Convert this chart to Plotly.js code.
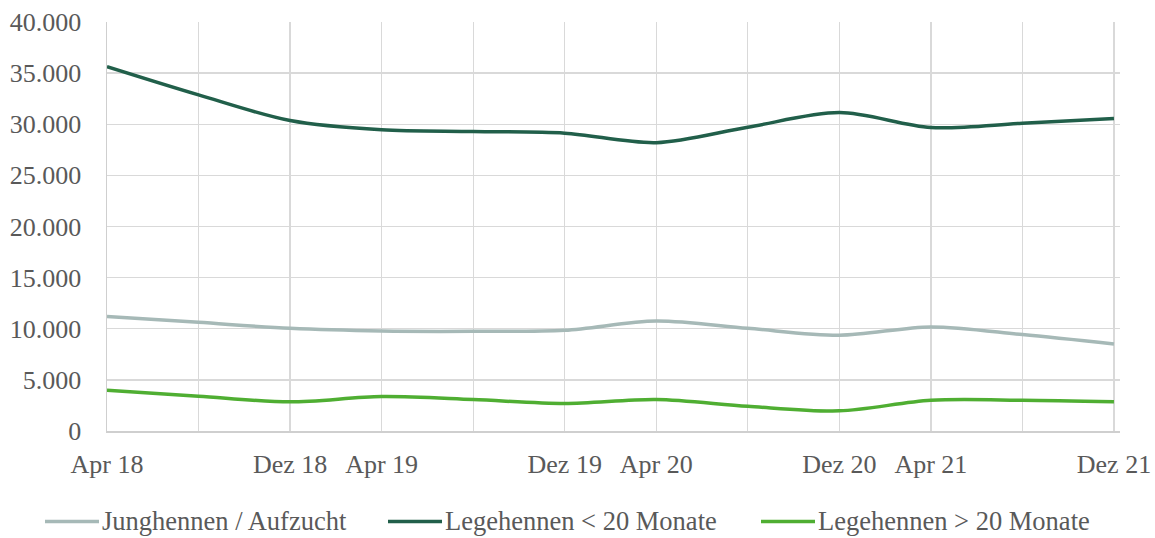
<!DOCTYPE html>
<html>
<head>
<meta charset="utf-8">
<script src="https://cdn.plot.ly/plotly-3.0.1.min.js"></script>
<style>html,body{margin:0;padding:0;background:#fff;}#chart{width:1155px;height:538px;}</style>
</head>
<body>
<div id="chart"></div>
<script>
var periods = ["Apr 18","Aug 18","Dez 18","Apr 19","Aug 19","Dez 19","Apr 20","Aug 20","Dez 20","Apr 21","Aug 21","Dez 21"];
var tickLabels = ["Apr 18","","Dez 18","Apr 19","","Dez 19","Apr 20","","Dez 20","Apr 21","","Dez 21"];
var junghennen = [11210,10630,10040,9780,9750,9850,10760,10040,9360,10180,9430,8510];
var legeUnter20 = [35630,32870,30360,29450,29290,29130,28200,29710,31140,29680,30100,30560];
var legeUeber20 = [3990,3400,2850,3370,3080,2690,3080,2420,1970,3010,3010,2850];
var seriesNames = ["Junghennen / Aufzucht","Legehennen < 20 Monate","Legehennen > 20 Monate"];
var seriesColors = ["#a6b9b7","#215f4a","#4fae32"];

var W = 1155, H = 538;
var M = {l: 107, r: 35, t: 22, b: 106.5};
var plotW = W - M.l - M.r, plotH = H - M.t - M.b;
function px2paperX(px){ return (px - M.l) / plotW; }
function px2paperY(py){ return (H - M.b - py) / plotH; }

var idx = periods.map(function(_, i){ return i; });
var family = "Liberation Serif, Times New Roman, serif";
var axisFont = {family: family, size: 26, color: "#595959"};
var legendFont = {family: family, size: 26.5, color: "#595959"};

var allSeries = [junghennen, legeUnter20, legeUeber20];
var data = allSeries.map(function(y, k){
  return {x: idx, y: y, name: seriesNames[k], type: "scatter", mode: "lines",
    line: {color: seriesColors[k], width: 3.5, shape: "spline", smoothing: 0.9},
    text: periods, showlegend: false};
});

// legend drawn as paper-positioned keys (line + label), like the original
var legendLineStart = [45, 388, 761];
var legendLineLen = 54;
var legendY = 522;
var shapes = [], annotations = [];
seriesNames.forEach(function(n, k){
  var x0 = legendLineStart[k], x1 = x0 + legendLineLen;
  shapes.push({type: "line", xref: "paper", yref: "paper",
    x0: px2paperX(x0), x1: px2paperX(x1), y0: px2paperY(legendY), y1: px2paperY(legendY),
    line: {color: seriesColors[k], width: 3.5}});
  annotations.push({xref: "paper", yref: "paper", x: px2paperX(x1 + 1), y: px2paperY(legendY),
    xanchor: "left", yanchor: "middle", text: n, showarrow: false, font: legendFont});
});

var layout = {
  width: W, height: H,
  margin: M,
  paper_bgcolor: "#fff", plot_bgcolor: "#fff",
  separators: ",.",
  font: axisFont,
  showlegend: false,
  shapes: shapes,
  annotations: annotations,
  xaxis: {range: [0, 11.066], tickmode: "array", tickvals: idx, ticktext: tickLabels,
    showgrid: true, gridcolor: "#d9d9d9", gridwidth: 1.3, zeroline: false,
    showline: true, linecolor: "#cfcfcf", linewidth: 1.5, ticks: "", ticklabelstandoff: 9,
    tickfont: axisFont, fixedrange: true, automargin: false},
  yaxis: {range: [0, 40000], dtick: 5000, tick0: 0, tickformat: ",d",
    showgrid: true, gridcolor: "#d9d9d9", gridwidth: 1.3, zeroline: false,
    showline: true, linecolor: "#cfcfcf", linewidth: 1.5, ticks: "", ticklabelstandoff: 19,
    tickfont: axisFont, fixedrange: true, automargin: false}
};
Plotly.newPlot("chart", data, layout, {displayModeBar: false, staticPlot: true});
</script>
</body>
</html>
